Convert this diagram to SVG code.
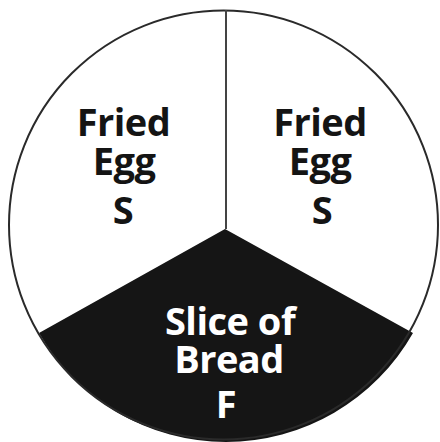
<svg xmlns="http://www.w3.org/2000/svg" width="440" height="442" viewBox="0 0 440 442">
<style>
.lbl{font-family:"Open Sans","Noto Sans","Liberation Sans",sans-serif;font-weight:bold;font-size:38px;text-anchor:middle;letter-spacing:-0.5px}
.dark{fill:#141414}
.light{fill:#ffffff}
</style>
<rect width="440" height="442" fill="#ffffff"/>
<g id="slice-bread">
<path d="M225,229 L39,333 A215,215 0 0 0 413,333 Z" fill="#151515"/>
<text class="lbl light"><tspan x="230" y="335">Slice of</tspan><tspan x="229" y="373">Bread</tspan><tspan x="226" y="418">F</tspan></text>
</g>
<g id="egg-left">
<text class="lbl dark"><tspan x="123.5" y="136">Fried</tspan><tspan x="124" y="175">Egg</tspan><tspan x="123" y="224">S</tspan></text>
</g>
<g id="egg-right">
<text class="lbl dark"><tspan x="320" y="136">Fried</tspan><tspan x="320" y="175">Egg</tspan><tspan x="322" y="224">S</tspan></text>
</g>
<g id="connectors">
<circle cx="223.5" cy="225" r="214.5" fill="none" stroke="#2a2a2a" stroke-width="2"/>
<line x1="226" y1="10" x2="226" y2="229" stroke="#444" stroke-width="2"/>
</g>
</svg>
